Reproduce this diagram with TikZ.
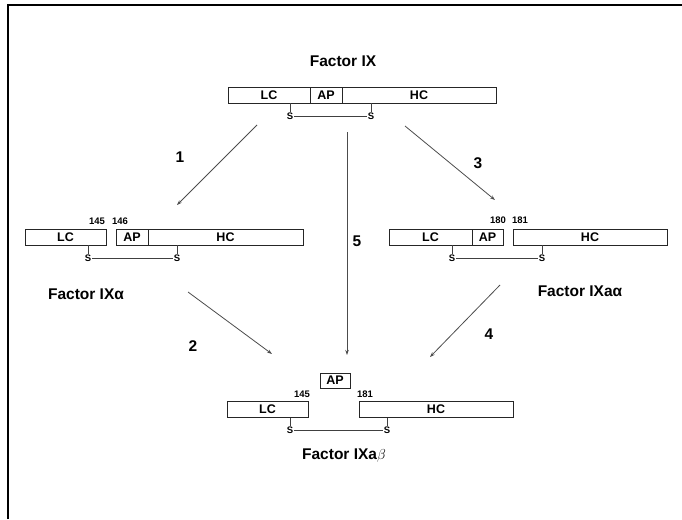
\documentclass[tikz,border=0pt]{standalone}
\usepackage{fontspec}
\setmainfont{Liberation Sans}
\usetikzlibrary{arrows.meta}
\begin{document}
\begin{tikzpicture}[x=1pt,y=-1pt,
  seg/.style={draw=black!85, line width=0.7pt, minimum height=16pt, inner sep=0pt,
    font=\bfseries\fontsize{12.5}{13}\selectfont},
  sbond/.style={inner sep=0.8pt, font=\bfseries\fontsize{9.5}{10}\selectfont},
  bondline/.style={draw=black!75, line width=0.6pt},
  resnum/.style={inner sep=0pt, font=\bfseries\fontsize{9.5}{10}\selectfont},
  title/.style={inner sep=0pt, font=\bfseries\fontsize{15.5}{16}\selectfont},
  steplabel/.style={inner sep=0pt, font=\bfseries\fontsize{15.5}{16}\selectfont},
  conv/.style={draw=black!70, line width=0.8pt, -{Stealth[length=5pt,width=3.5pt]}}]
\useasboundingbox (0,0) rectangle (682,519);
% frame
\draw[line width=2pt] (8,519) -- (8,5.5) -- (682,5.5);

% ---- Factor IX ----
\node[title] (t-title) at (343,61) {Factor IX};
\node[seg, minimum width=82pt] (t-lc) at (269,95) {LC};
\node[seg, minimum width=32pt] (t-ap) at (326,95) {AP};
\node[seg, minimum width=154pt] (t-hc) at (419,95) {HC};
\node[sbond] (t-s1) at (290,116) {S};
\node[sbond] (t-s2) at (371,116) {S};
\draw[bondline] (t-s1.north) -- (t-s1.north |- t-lc.south);
\draw[bondline] (t-s2.north) -- (t-s2.north |- t-hc.south);
\draw[bondline] (t-s1.east) -- (t-s2.west);

% ---- Factor IXalpha ----
\node[seg, minimum width=81pt] (l-lc) at (65.5,237) {LC};
\node[seg, minimum width=32pt] (l-ap) at (132,237) {AP};
\node[seg, minimum width=155pt] (l-hc) at (225.5,237) {HC};
\node[resnum] (l-n145) at (97,221) {145};
\node[resnum] (l-n146) at (120,221) {146};
\node[sbond] (l-s1) at (88,258) {S};
\node[sbond] (l-s2) at (177,258) {S};
\draw[bondline] (l-s1.north) -- (l-s1.north |- l-lc.south);
\draw[bondline] (l-s2.north) -- (l-s2.north |- l-hc.south);
\draw[bondline] (l-s1.east) -- (l-s2.west);
\node[title] (l-title) at (86,294) {Factor IXα};

% ---- Factor IXaalpha ----
\node[seg, minimum width=83pt] (r-lc) at (430.5,237) {LC};
\node[seg, minimum width=31pt] (r-ap) at (487.5,237) {AP};
\node[seg, minimum width=154pt] (r-hc) at (590,237) {HC};
\node[resnum] (r-n180) at (498,220) {180};
\node[resnum] (r-n181) at (520,220) {181};
\node[sbond] (r-s1) at (452,258) {S};
\node[sbond] (r-s2) at (542,258) {S};
\draw[bondline] (r-s1.north) -- (r-s1.north |- r-lc.south);
\draw[bondline] (r-s2.north) -- (r-s2.north |- r-hc.south);
\draw[bondline] (r-s1.east) -- (r-s2.west);
\node[title] (r-title) at (580,291) {Factor IXaα};

% ---- Factor IXabeta ----
\node[seg, minimum width=30pt, minimum height=15pt] (b-ap) at (335,380.5) {AP};
\node[seg, minimum width=81pt] (b-lc) at (267.5,409.5) {LC};
\node[seg, minimum width=154pt] (b-hc) at (436,409.5) {HC};
\node[resnum] (b-n145) at (302,394) {145};
\node[resnum] (b-n181) at (365,394) {181};
\node[sbond] (b-s1) at (290,430) {S};
\node[sbond] (b-s2) at (387,430) {S};
\draw[bondline] (b-s1.north) -- (b-s1.north |- b-lc.south);
\draw[bondline] (b-s2.north) -- (b-s2.north |- b-hc.south);
\draw[bondline] (b-s1.east) -- (b-s2.west);
\node[title] (b-title) at (344,456) {Factor IXa$\beta$};

% ---- conversion arrows ----
\coordinate (a1s) at (257,125); \coordinate (a1e) at (177,205);
\coordinate (a3s) at (405,126); \coordinate (a3e) at (495,200);
\coordinate (a5s) at (347,132); \coordinate (a5e) at (347,355);
\coordinate (a2s) at (188,292); \coordinate (a2e) at (272,354);
\coordinate (a4s) at (500,285); \coordinate (a4e) at (430,357);
\draw[conv] (a1s) -- (a1e);
\draw[conv] (a3s) -- (a3e);
\draw[conv] (a5s) -- (a5e);
\draw[conv] (a2s) -- (a2e);
\draw[conv] (a4s) -- (a4e);
\node[steplabel] (n1) at (180,157) {1};
\node[steplabel] (n3) at (478,163) {3};
\node[steplabel] (n5) at (357,241) {5};
\node[steplabel] (n2) at (193,346) {2};
\node[steplabel] (n4) at (489,334) {4};
\end{tikzpicture}
\end{document}
